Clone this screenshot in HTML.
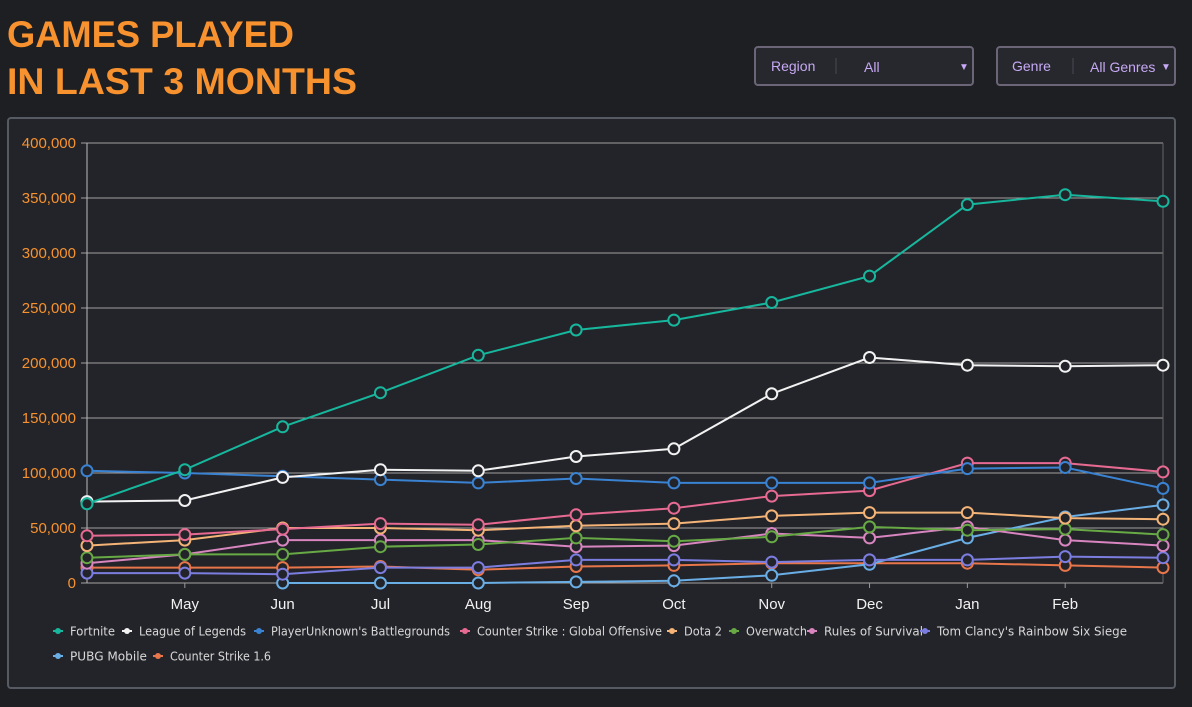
<!DOCTYPE html>
<html><head><meta charset="utf-8"><style>
html,body{margin:0;padding:0;background:#1e1f23;}
svg{display:block;}
</style></head><body>
<svg id="c" width="1192" height="707" xmlns="http://www.w3.org/2000/svg">
<rect width="1192" height="707" fill="#1e1f23"/>
<text x="7" y="47" fill="#f7922f" font-family="Liberation Sans, sans-serif" font-weight="bold" font-size="37" textLength="287" lengthAdjust="spacingAndGlyphs">GAMES PLAYED</text>
<text x="7" y="94" fill="#f7922f" font-family="Liberation Sans, sans-serif" font-weight="bold" font-size="37" textLength="350" lengthAdjust="spacingAndGlyphs">IN LAST 3 MONTHS</text>
<g>
<rect x="755" y="47" width="218" height="38" rx="3" fill="#26282d" stroke="#6b6577" stroke-width="2"/>
<text x="771" y="71" fill="#c7a9f5" font-family="Liberation Sans, sans-serif" font-size="14">Region</text>
<line x1="836" y1="58" x2="836" y2="74" stroke="#4a4a52"/>
<text x="864" y="72" fill="#c7a9f5" font-family="Liberation Sans, sans-serif" font-size="14">All</text>
<text x="959" y="70" fill="#c7a9f5" font-family="Liberation Sans, sans-serif" font-size="10">▼</text>
</g>
<g>
<rect x="997" y="47" width="178" height="38" rx="3" fill="#26282d" stroke="#6b6577" stroke-width="2"/>
<text x="1012" y="71" fill="#c7a9f5" font-family="Liberation Sans, sans-serif" font-size="14">Genre</text>
<line x1="1073" y1="58" x2="1073" y2="74" stroke="#4a4a52"/>
<text x="1090" y="72" fill="#c7a9f5" font-family="Liberation Sans, sans-serif" font-size="14">All Genres</text>
<text x="1161" y="70" fill="#c7a9f5" font-family="Liberation Sans, sans-serif" font-size="10">▼</text>
</g>
<rect x="8" y="118" width="1167" height="570" rx="3" fill="#232429" stroke="#555a63" stroke-width="2"/>
<g id="plot"></g>
</svg>
<script>
const months = ["Apr","May","Jun","Jul","Aug","Sep","Oct","Nov","Dec","Jan","Feb","Mar"];
const yTicks = [0,50000,100000,150000,200000,250000,300000,350000,400000];
const seriesNames = ["Fortnite","League of Legends","PlayerUnknown's Battlegrounds","Counter Strike : Global Offensive","Dota 2","Overwatch","Rules of Survival","Tom Clancy's Rainbow Six Siege","PUBG Mobile","Counter Strike 1.6"];
const seriesColors = ["#17b79e","#f2f2f2","#3a82d2","#e76a92","#f4b478","#67a944","#d885c0","#7b7de0","#6aaee6","#e8764a"];
const fortnite = [72000,103000,142000,173000,207000,230000,239000,255000,279000,344000,353000,347000];
const lol = [74000,75000,96000,103000,102000,115000,122000,172000,205000,198000,197000,198000];
const pubg = [102000,100000,97000,94000,91000,95000,91000,91000,91000,104000,105000,86000];
const csgo = [43000,44000,49000,54000,53000,62000,68000,79000,84000,109000,109000,101000];
const dota = [34000,39000,50000,50000,48000,52000,54000,61000,64000,64000,59000,58000];
const overwatch = [23000,26000,26000,33000,35000,41000,38000,42000,51000,48000,49000,44000];
const rules = [18000,26000,39000,39000,39000,33000,34000,45000,41000,51000,39000,34000];
const r6 = [9000,9000,8000,14000,14000,21000,21000,19000,21000,21000,24000,23000];
const pubgMobile = [null,null,0,0,0,1000,2000,7000,17000,41000,60000,71000];
const cs16 = [14000,14000,14000,15000,12000,15000,16000,18000,18000,18000,16000,14000];
const allSeries = [fortnite,lol,pubg,csgo,dota,overwatch,rules,r6,pubgMobile,cs16];

const NS="http://www.w3.org/2000/svg";
const plot=document.getElementById('plot');
const X0=87,X1=1163,Y0=583,Y1=143;
const x=i=>X0+(X1-X0)*i/(months.length-1);
const y=v=>Y0-(Y0-Y1)*v/400000;
function mk(tag,attrs,parent){const e=document.createElementNS(NS,tag);for(const k in attrs)e.setAttribute(k,attrs[k]);(parent||plot).appendChild(e);return e;}
yTicks.forEach(t=>{
  const g=mk('line',{x1:X0-6,x2:X1,y1:y(t),y2:y(t),stroke:t===0?'#a5a5a5':'#a0a0a0','stroke-width':1});
  
  
  const l=mk('text',{x:76,y:y(t)+5,fill:'#f7922f','font-family':'Liberation Sans, sans-serif','font-size':15,'text-anchor':'end'});
  l.textContent=t.toLocaleString('en-US');
  
  
});
const ax=mk('line',{x1:X0,x2:X0,y1:Y1,y2:Y0,stroke:'#bbb'});


const ax2=mk('line',{x1:X1,x2:X1,y1:Y1,y2:Y0,stroke:'#666'});


months.forEach((m,i)=>{
  if(i===0||i===months.length-1)return;
  mk('line',{x1:x(i),x2:x(i),y1:Y0,y2:Y0+5,stroke:'#999'});
  const t=mk('text',{x:x(i),y:609,fill:'#f2f2f2','font-family':'Liberation Sans, sans-serif','font-size':15,'text-anchor':'middle'});
  t.textContent=m;
  
  
});
for(let s=allSeries.length-1;s>=0;s--){
  const d=allSeries[s];const c=seriesColors[s];
  const g=mk('g',{});
  
  
  let p='';d.forEach((v,i)=>{if(v===null)return;p+=(p?'L':'M')+x(i)+','+y(v);});
  mk('path',{d:p,fill:'none',stroke:c,'stroke-width':2},g);
  d.forEach((v,i)=>{if(v===null)return;
    const pt=mk('circle',{cx:x(i),cy:y(v),r:5.5,fill:'#232429',stroke:c,'stroke-width':2},g);
    
    
  });
}
const legendPos=[[58,631],[127,631],[259,631],[465,631],[672,631],[734,631],[812,631],[925,631],[58,656],[158,656]];
const legendTextWidths=[45,107,179,185,38,61,99,190,77,101];
seriesNames.forEach((n,i)=>{
  const [lx,ly]=legendPos[i];
  const g=mk('g',{});
  
  
  mk('line',{x1:lx-5,x2:lx+5,y1:ly,y2:ly,stroke:seriesColors[i],'stroke-width':2},g);
  mk('circle',{cx:lx,cy:ly,r:3,fill:seriesColors[i]},g);
  const t=mk('text',{x:lx+12,y:ly+4.5,fill:'#d8d8d8','font-family':'DejaVu Sans, Liberation Sans, sans-serif','font-size':12,textLength:legendTextWidths[i],lengthAdjust:'spacingAndGlyphs'},g);
  t.textContent=n;
});
</script>
</body></html>
